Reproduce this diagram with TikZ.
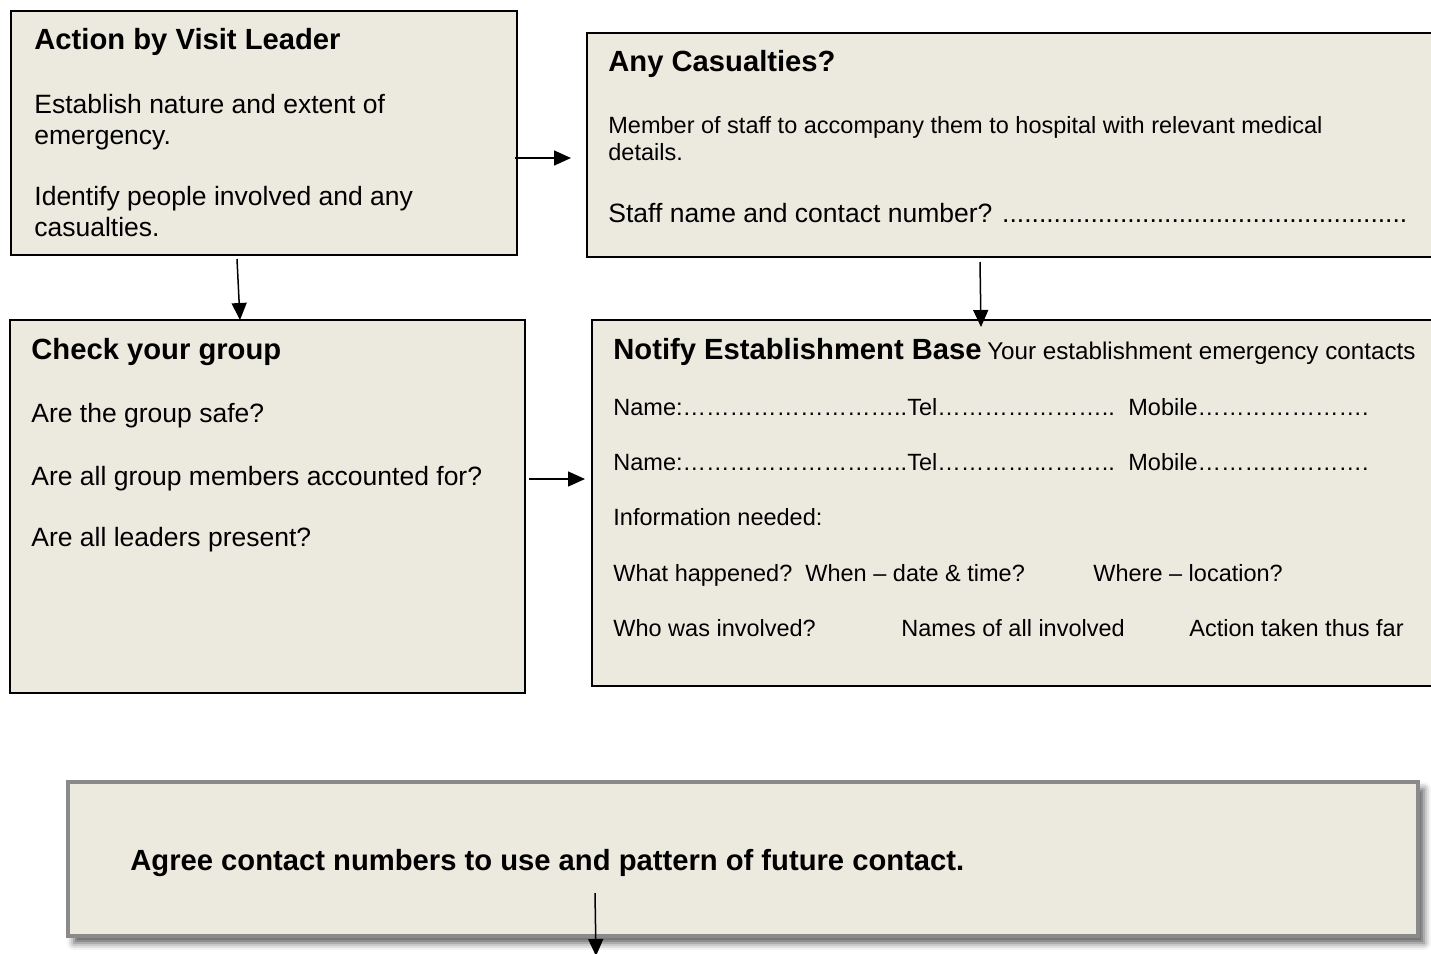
\documentclass[tikz,border=0pt]{standalone}
\usepackage{fontspec}
\setmainfont{Liberation Sans}
\usetikzlibrary{arrows.meta,fit,shadows.blur}
\definecolor{boxfill}{RGB}{236,233,223}
\definecolor{shadowgray}{RGB}{138,138,138}
\tikzset{
  box/.style={draw=black, line width=1pt, fill=boxfill, inner sep=0pt},
  gbox/.style={draw=shadowgray, line width=2pt, fill=boxfill, inner sep=0pt,
    blur shadow={shadow xshift=3pt, shadow yshift=-3.5pt, shadow blur radius=3.5pt, shadow opacity=65}},
  body/.style={anchor=base west, inner sep=0pt, font=\fontsize{13.25}{15}\selectfont},
  small/.style={anchor=base west, inner sep=0pt, font=\fontsize{11.75}{14}\selectfont},
  ttl/.style={anchor=base west, inner sep=0pt, font=\fontsize{14.6}{17}\selectfont\bfseries},
  arr/.style={line width=0.75pt, -{Triangle[length=8.5pt,width=7.5pt]}},
}
\begin{document}
\begin{tikzpicture}[x=0.5pt,y=-0.5pt]
\useasboundingbox (0,0) rectangle (1431,954);
\clip (0,0) rectangle (1431,954);
% boxes
\node[box, fit={(11,11) (517,255)}] (A) {};
\node[box, fit={(587,33) (1445,257)}] (B) {};
\node[box, fit={(10,320) (525,693)}] (C) {};
\node[box, fit={(592,320) (1445,686)}] (D) {};
\node[gbox, fit={(68,782) (1418,936)}] (E) {};
% box A text
\node[ttl] (a0) at (34,49) {Action by Visit Leader};
\node[body] (a1) at (34,113) {Establish nature and extent of};
\node[body] (a2) at (34,144) {emergency.};
\node[body] (a3) at (34,205) {Identify people involved and any};
\node[body] (a4) at (34,236) {casualties.};
% box B text
\node[ttl] (b0) at (608,71) {Any Casualties?};
\node[small] (b1) at (608,133) {Member of staff to accompany them to hospital with relevant medical};
\node[small] (b2) at (608,160) {details.};
\node[body] (b3) at (608,222) {Staff name and contact number? .......................................................};
% box C text
\node[ttl] (c0) at (31,359) {Check your group};
\node[body] (c1) at (31,422) {Are the group safe?};
\node[body] (c2) at (31,485) {Are all group members accounted for?};
\node[body] (c3) at (31,546) {Are all leaders present?};
% box D text
\node[anchor=base west, inner sep=0pt] (d0) at (613,359) {{\fontsize{14.6}{17}\selectfont\bfseries Notify Establishment Base} {\fontsize{12.1}{14}\selectfont Your establishment emergency contacts}};
\node[small] (d1a) at (613,415) {Name:………………………..};
\node[small] (d1b) at (907,415) {Tel………………….. };
\node[small] (d1c) at (1128,415) {Mobile………………….};
\node[small] (d2a) at (613,470) {Name:………………………..};
\node[small] (d2b) at (907,470) {Tel………………….. };
\node[small] (d2c) at (1128,470) {Mobile………………….};
\node[small] (d3) at (613,525) {Information needed:};
\node[small] (d4a) at (613,581) {What happened?\ \ When – date \& time?};
\node[small] (d4b) at (1093,581) {Where – location?};
\node[small] (d5a) at (613,636) {Who was involved?};
\node[small] (d5b) at (901,636) {Names of all involved};
\node[small] (d5c) at (1189,636) {Action taken thus far};
% box E text
\node[ttl] (e0) at (130,870) {Agree contact numbers to use and pattern of future contact.};
% connectors
\coordinate (ab) at (571,158);
\coordinate (cd) at (585,479);
\coordinate (eo) at (596,956);
\draw[arr] ([xshift=-1.5pt,yshift=-12.5pt]A.east) -- (ab);
\draw[arr] ([xshift=-13.5pt,yshift=-1.5pt]A.south) -- ([xshift=-13.75pt,yshift=-0.5pt]C.north);
\draw[arr] ([xshift=-18pt,yshift=-2pt]B.south) -- ([xshift=-18.75pt,yshift=-4pt]D.north);
\draw[arr] ([xshift=1.5pt,yshift=13.75pt]C.east) -- (cd);
\draw[arr] ([xshift=-74pt,yshift=-17pt]E.center) -- (eo);
\end{tikzpicture}
\end{document}
